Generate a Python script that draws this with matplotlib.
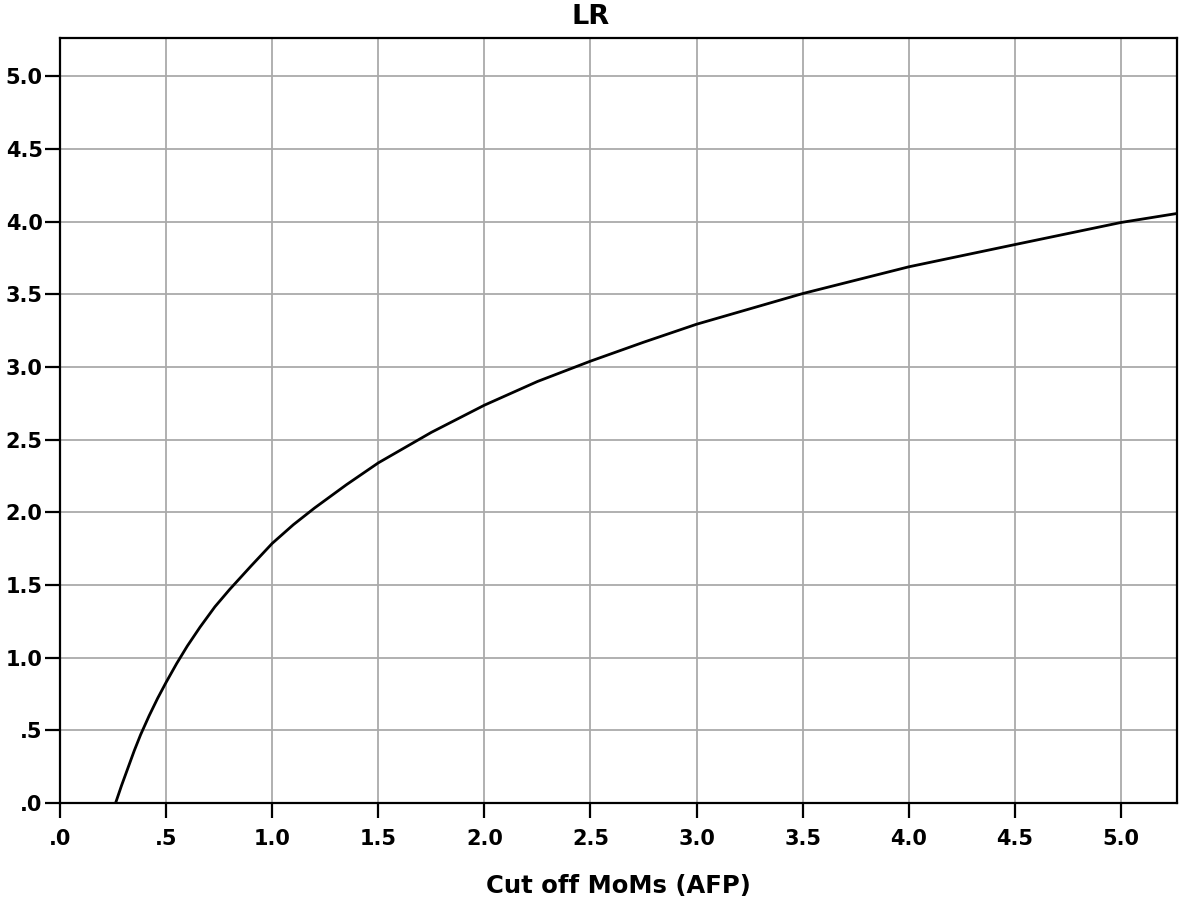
import numpy as np
import matplotlib.pyplot as plt
from matplotlib.ticker import FuncFormatter, MultipleLocator

plt.rcParams['font.family'] = ['DejaVu Sans']
plt.rcParams['font.weight'] = 'bold'

# Points
cutoff = [0.262, 0.29, 0.32, 0.35, 0.38, 0.42, 0.46, 0.50, 0.55, 0.60, 0.66, 0.73, 0.80,
          0.90, 1.00, 1.10, 1.20, 1.35, 1.50, 1.75, 2.00, 2.25, 2.50, 2.75, 3.00, 3.50,
          4.00, 4.50, 5.00, 5.264]
lr = [0.0, 0.12, 0.24, 0.36, 0.47, 0.60, 0.72, 0.83, 0.96, 1.08, 1.21, 1.35, 1.47,
      1.63, 1.786, 1.915, 2.03, 2.19, 2.34, 2.55, 2.737, 2.90, 3.04, 3.17, 3.294, 3.505,
      3.689, 3.842, 3.994, 4.056]


def fmt(v, pos):
    s = f"{v:.1f}"
    if s.startswith("0"):
        s = s[1:]
    return s


fig = plt.figure(figsize=(11.81, 9.06), dpi=100)
ax = fig.add_axes([0.0508, 0.1137, 0.9458, 0.8443])

ax.plot(cutoff, lr, color='black', linewidth=2.0, solid_joinstyle='round')

ax.set_xlim(0, 5.264)
ax.set_ylim(0, 5.263)
ax.xaxis.set_major_locator(MultipleLocator(0.5))
ax.yaxis.set_major_locator(MultipleLocator(0.5))
ax.xaxis.set_major_formatter(FuncFormatter(fmt))
ax.yaxis.set_major_formatter(FuncFormatter(fmt))
ax.grid(True, color='#aaaaaa', linewidth=1.3)
ax.set_axisbelow(True)
for sp in ax.spines.values():
    sp.set_linewidth(1.6)
ax.tick_params(length=11, width=1.6, labelsize=15)
ax.tick_params(axis='x', pad=8)
ax.tick_params(axis='y', pad=1.5)

ax.set_xlabel('Cut off MoMs (AFP)', fontsize=17.5, fontweight='bold', labelpad=18)
fig.text(0.5, 0.981, 'LR', ha='center', va='center', fontsize=19.5, fontweight='bold')

fig.savefig('out.png', dpi=100)
